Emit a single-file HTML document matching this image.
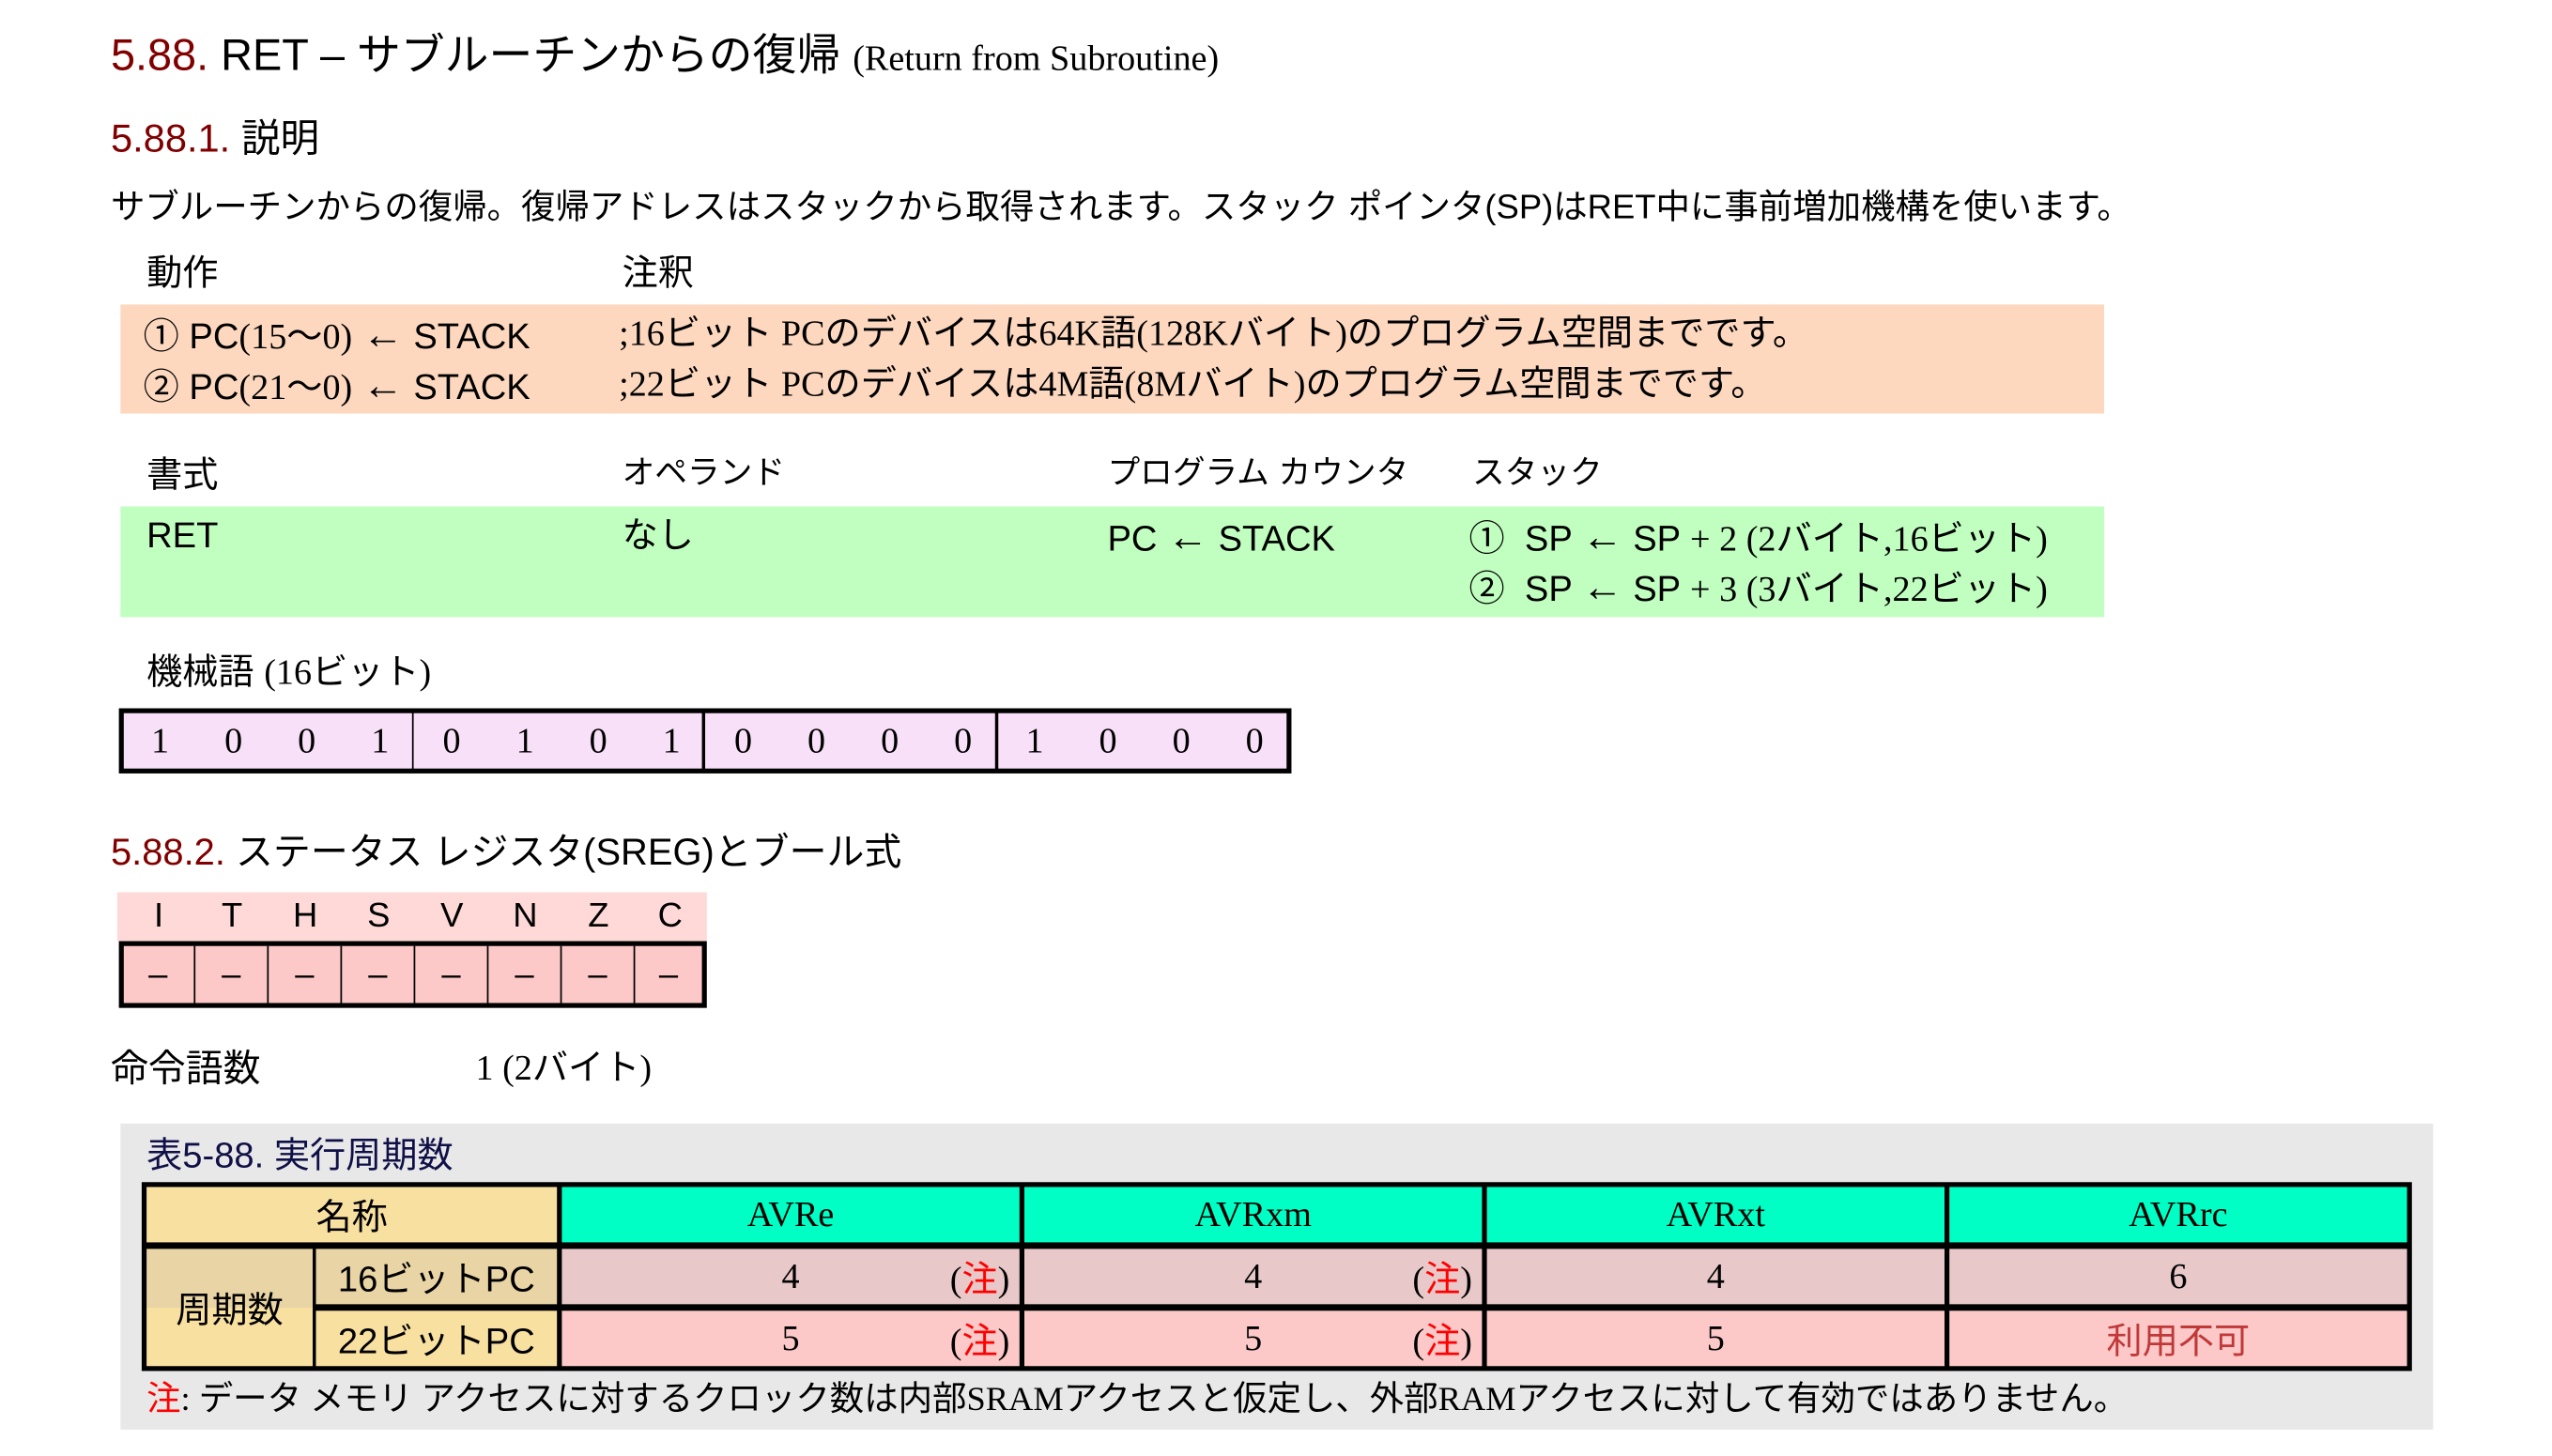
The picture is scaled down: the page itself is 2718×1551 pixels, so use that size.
<!DOCTYPE html>
<html><head><meta charset="utf-8"><style>
html,body{margin:0;padding:0;background:#fff;width:2718px;height:1551px;overflow:hidden}
#w{position:absolute;left:0;top:0;width:1570px;height:894px;transform:scale(1.7345);transform-origin:0 0;font-family:"Liberation Sans","Noto Sans CJK JP",sans-serif;color:#000}
.t{position:absolute;white-space:nowrap;line-height:1}
.s{font-family:"Liberation Serif","Noto Sans CJK JP",serif}
.r{color:#800000}
.b{position:absolute;box-sizing:border-box}
.c{position:absolute;display:flex;align-items:center;justify-content:center;box-sizing:border-box;white-space:nowrap}
.ar{font-size:1.15em}
</style></head><body><div id="w">
<div class="t" style="left:68px;top:21px;font-size:27px"><span class="r">5.88.</span> RET – サブルーチンからの復帰 <span class="s" style="font-size:22px">(Return from Subroutine)</span></div>
<div class="t" style="left:68px;top:74px;font-size:24px"><span class="r">5.88.1.</span> 説明</div>
<div class="t" style="left:68px;top:117px;font-size:21px">サブルーチンからの復帰。復帰アドレスはスタックから取得されます。スタック ポインタ(SP)はRET中に事前増加機構を使います。</div>
<div class="t" style="left:90px;top:157px;font-size:22px">動作</div>
<div class="t" style="left:382px;top:157px;font-size:22px">注釈</div>
<div class="b" style="left:74px;top:187px;width:1218px;height:67px;background:#fdd8bf"></div>
<div class="t" style="left:88px;top:194px;font-size:22px">① PC<span class="s">(15～0)</span> <span class="ar">←</span> STACK</div>
<div class="t" style="left:380px;top:194px;font-size:22px" ><span class="s">;16ビット PCのデバイスは64K語(128Kバイト)のプログラム空間までです。</span></div>
<div class="t" style="left:88px;top:225px;font-size:22px">② PC<span class="s">(21～0)</span> <span class="ar">←</span> STACK</div>
<div class="t" style="left:380px;top:225px;font-size:22px"><span class="s">;22ビット PCのデバイスは4M語(8Mバイト)のプログラム空間までです。</span></div>
<div class="t" style="left:90px;top:281px;font-size:22px">書式</div>
<div class="t" style="left:382px;top:281px;font-size:20px">オペランド</div>
<div class="t" style="left:680px;top:281px;font-size:20px">プログラム カウンタ</div>
<div class="t" style="left:904px;top:281px;font-size:20px">スタック</div>
<div class="b" style="left:74px;top:311px;width:1218px;height:68px;background:#c0ffc0"></div>
<div class="t" style="left:90px;top:318px;font-size:22px">RET</div>
<div class="t" style="left:382px;top:318px;font-size:22px">なし</div>
<div class="t" style="left:680px;top:318px;font-size:22px">PC <span class="ar">←</span> STACK</div>
<div class="t" style="left:902px;top:318px;font-size:22px">①&nbsp; SP <span class="ar">←</span> SP <span class="s">+ 2 (2バイト,16ビット)</span></div>
<div class="t" style="left:902px;top:349px;font-size:22px">②&nbsp; SP <span class="ar">←</span> SP <span class="s">+ 3 (3バイト,22ビット)</span></div>
<div class="t" style="left:90px;top:402px;font-size:22px">機械語 <span class="s">(16ビット)</span></div>
<div class="b" style="left:73px;top:435px;width:720px;height:40px;background:#f8e0f8;border:3px solid #000"></div>
<div class="b" style="left:253px;top:437px;width:1px;height:36px;background:#000"></div>
<div class="b" style="left:431px;top:437px;width:2px;height:36px;background:#000"></div>
<div class="b" style="left:611px;top:437px;width:2px;height:36px;background:#000"></div>
<div class="s" style="position:absolute;left:0;top:0;font-size:22px">
<div class="c" style="left:76px;top:437px;width:44.7px;height:36px">1</div><div class="c" style="left:121px;top:437px;width:44.7px;height:36px">0</div><div class="c" style="left:166px;top:437px;width:44.7px;height:36px">0</div><div class="c" style="left:211px;top:437px;width:44.7px;height:36px">1</div>
<div class="c" style="left:255px;top:437px;width:44.7px;height:36px">0</div><div class="c" style="left:300px;top:437px;width:44.7px;height:36px">1</div><div class="c" style="left:345px;top:437px;width:44.7px;height:36px">0</div><div class="c" style="left:390px;top:437px;width:44.7px;height:36px">1</div>
<div class="c" style="left:434px;top:437px;width:44.7px;height:36px">0</div><div class="c" style="left:479px;top:437px;width:44.7px;height:36px">0</div><div class="c" style="left:524px;top:437px;width:44.7px;height:36px">0</div><div class="c" style="left:569px;top:437px;width:44.7px;height:36px">0</div>
<div class="c" style="left:613px;top:437px;width:44.7px;height:36px">1</div><div class="c" style="left:658px;top:437px;width:44.7px;height:36px">0</div><div class="c" style="left:703px;top:437px;width:44.7px;height:36px">0</div><div class="c" style="left:748px;top:437px;width:44.7px;height:36px">0</div>
</div>
<div class="t" style="left:68px;top:512px;font-size:23px"><span class="r">5.88.2.</span> ステータス レジスタ(SREG)とブール式</div>
<div class="b" style="left:72px;top:548px;width:362px;height:30px;background:#ffd8d8"></div>
<div class="b" style="left:73px;top:578px;width:361px;height:41px;background:#fcc8c8;border:3px solid #000"></div>
<div style="position:absolute;left:0;top:0;font-size:21px">
<div class="c" style="left:75px;top:548px;width:45px;height:30px">I</div><div class="c" style="left:120px;top:548px;width:45px;height:30px">T</div><div class="c" style="left:165px;top:548px;width:45px;height:30px">H</div><div class="c" style="left:210px;top:548px;width:45px;height:30px">S</div><div class="c" style="left:255px;top:548px;width:45px;height:30px">V</div><div class="c" style="left:300px;top:548px;width:45px;height:30px">N</div><div class="c" style="left:345px;top:548px;width:45px;height:30px">Z</div><div class="c" style="left:390px;top:548px;width:43px;height:30px">C</div>
<div class="c" style="left:75px;top:581px;width:45px;height:35px;border-right:1px solid #000">–</div><div class="c" style="left:120px;top:581px;width:45px;height:35px;border-right:1px solid #000">–</div><div class="c" style="left:165px;top:581px;width:45px;height:35px;border-right:1px solid #000">–</div><div class="c" style="left:210px;top:581px;width:45px;height:35px;border-right:1px solid #000">–</div><div class="c" style="left:255px;top:581px;width:45px;height:35px;border-right:1px solid #000">–</div><div class="c" style="left:300px;top:581px;width:45px;height:35px;border-right:1px solid #000">–</div><div class="c" style="left:345px;top:581px;width:45px;height:35px;border-right:1px solid #000">–</div><div class="c" style="left:390px;top:581px;width:41px;height:35px">–</div>
</div>
<div class="t" style="left:68px;top:645px;font-size:23px">命令語数</div>
<div class="t s" style="left:292px;top:645px;font-size:22px">1 (2バイト)</div>
<div class="b" style="left:74px;top:690px;width:1420px;height:188px;background:#e8e8e8"></div>
<div class="t" style="left:90px;top:699px;font-size:22px;color:#101048">表5-88. 実行周期数</div>
<div class="b" style="left:87px;top:726px;width:1394px;height:116px;background:#000"></div>
<div style="position:absolute;left:0;top:0;font-size:22px">
<div class="c" style="left:90px;top:729px;width:252px;height:34px;background:#f8e0a0">名称</div>
<div class="c s" style="left:345px;top:729px;width:281px;height:34px;background:#00ffc4">AVRe</div>
<div class="c s" style="left:629px;top:729px;width:281px;height:34px;background:#00ffc4">AVRxm</div>
<div class="c s" style="left:913px;top:729px;width:281px;height:34px;background:#00ffc4">AVRxt</div>
<div class="c s" style="left:1197px;top:729px;width:281px;height:34px;background:#00ffc4">AVRrc</div>
<div class="c" style="left:90px;top:767px;width:102px;height:72px;background:linear-gradient(#e8d4a4 50%,#f8e0a0 50%)">周期数</div>
<div class="c" style="left:194px;top:767px;width:148px;height:34px;background:#e8d4a4">16ビットPC</div>
<div class="c" style="left:194px;top:805px;width:148px;height:34px;background:#f8e0a0">22ビットPC</div>
<div class="c s" style="left:345px;top:767px;width:281px;height:34px;background:#e8c8c8">4<span style="position:absolute;right:6px">(<span style="color:#f00">注</span>)</span></div>
<div class="c s" style="left:629px;top:767px;width:281px;height:34px;background:#e8c8c8">4<span style="position:absolute;right:6px">(<span style="color:#f00">注</span>)</span></div>
<div class="c s" style="left:913px;top:767px;width:281px;height:34px;background:#e8c8c8">4</div>
<div class="c s" style="left:1197px;top:767px;width:281px;height:34px;background:#e8c8c8">6</div>
<div class="c s" style="left:345px;top:805px;width:281px;height:34px;background:#fcc8c8">5<span style="position:absolute;right:6px">(<span style="color:#f00">注</span>)</span></div>
<div class="c s" style="left:629px;top:805px;width:281px;height:34px;background:#fcc8c8">5<span style="position:absolute;right:6px">(<span style="color:#f00">注</span>)</span></div>
<div class="c s" style="left:913px;top:805px;width:281px;height:34px;background:#fcc8c8">5</div>
<div class="c s" style="left:1197px;top:805px;width:281px;height:34px;background:#fcc8c8;color:#c03838">利用不可</div>
</div>
<div class="t s" style="left:90px;top:849px;font-size:21px"><span style="color:#f00">注</span>: データ メモリ アクセスに対するクロック数は内部SRAMアクセスと仮定し、外部RAMアクセスに対して有効ではありません。</div>
</div></body></html>
